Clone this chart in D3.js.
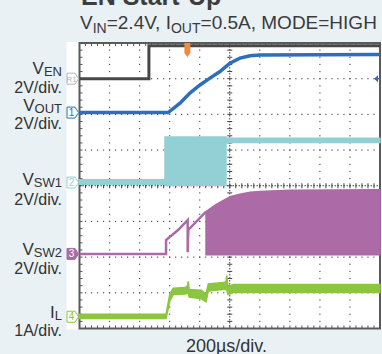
<!DOCTYPE html>
<html>
<head>
<meta charset="utf-8">
<script src="https://cdn.jsdelivr.net/npm/d3@7"></script>
<style>
  html, body { margin: 0; padding: 0; background: #e9f1f5; }
  svg { display: block; font-family: "Liberation Sans", Arial, sans-serif; }
</style>
</head>
<body>
<svg id="chart" width="382" height="354"></svg>
<script>
// ---- Data -------------------------------------------------------------
// Time in µs (200 µs/div, 10 divisions); values in volts or amps.
const timeDomain = [0, 2000];

// V_EN (2 V/div)
const enTrace = [[0, 0], [462, 0], [462, 1.85], [2000, 1.85]];

// V_OUT (2 V/div)
const outTrace = [[0, 0], [590, 0], [669, 0.53], [735, 1.09], [802, 1.55], [868, 1.93],
                  [935, 2.3], [1001, 2.77], [1068, 3.05], [1135, 3.18], [1201, 3.23], [2000, 3.25]];

// V_SW1 switching envelope (2 V/div): [t, low, high]
const sw1Band = [[0, -0.1, 0.15], [569, -0.1, 0.15], [569, -0.15, 2.55], [975, -0.15, 2.55],
                 [975, 2.25, 2.48], [2000, 2.25, 2.48]];

// V_SW2 pre-switching ramp (2 V/div)
const sw2Ramp = [[0, 0], [576, 0], [576, 0.78], [656, 1.34], [720, 1.9], [720, 0.1],
                 [724, 1.34], [842, 2.37]];

// V_SW2 switching envelope: [t, low, high]
const sw2Band = [[842, -0.05, 2.37], [902, -0.05, 2.74], [1002, -0.05, 3.2], [1068, -0.05, 3.35],
                 [1135, -0.05, 3.45], [1201, -0.05, 3.5], [1401, -0.05, 3.57], [2000, -0.05, 3.6]];

// I_L envelope (1 A/div): [t, low, high]
const ilBand = [[0, -0.05, 0.07], [576, -0.05, 0.07], [602, 0.45, 0.65], [624, 0.62, 0.8],
                [702, 0.64, 0.82], [718, 0.66, 0.86], [724, 0.66, 0.99], [730, 0.55, 0.76],
                [813, 0.5, 0.74], [842, 0.42, 0.62], [857, 0.72, 0.92], [957, 0.76, 0.96],
                [975, 0.76, 0.98], [980, 0.76, 1.16], [988, 0.62, 0.84], [1024, 0.68, 0.9],
                [2000, 0.68, 0.9]];

// Channel labels, units per division, and ground offsets (divisions from centre)
const channelMain  = ["V", "V", "V", "V", "I"];
const channelSub   = ["EN", "OUT", "SW1", "SW2", "L"];
const channelScale = ["2V/div.", "2V/div.", "2V/div.", "2V/div.", "1A/div."];
const unitsPerDiv  = [2, 2, 2, 2, 1];
const groundDiv    = [3.0, 2.05, 0.09, -1.91, -3.67];
const markerText   = ["R1", "1", "2", "3", "4"];
const channelColor = ["#474747", "#2f6dbd", "#93d0d5", "#ac6aa6", "#8cc540"];

const titleText = "EN Start-Up";
const subtitleParts = [["V", false], ["IN", true], ["=2.4V, I", false], ["OUT", true], ["=0.5A, MODE=HIGH", false]];
const timeLabel = "200µs/div.";

// ---- Layout -----------------------------------------------------------
const plot = { left: 79.5, right: 380, top: 43, bottom: 328.5 };
const labelRight = 62;
const labelBaselines = [[74, 92.5], [110.5, 129], [185, 205], [255, 273.5], [318, 336]];

const svg = d3.select("#chart");

const x = d3.scaleLinear().domain(timeDomain).range([plot.left, plot.right]);
const yDiv = d3.scaleLinear().domain([-4, 4]).range([plot.bottom, plot.top]);
const yCh = (ch, v) => yDiv(groundDiv[ch] + v / unitsPerDiv[ch]);

// Title and subtitle
svg.append("text").attr("x", 81).attr("y", 5)
  .attr("font-size", 25).attr("font-weight", "bold").attr("fill", "#3d3d3d")
  .text(titleText);

const sub = svg.append("text").attr("x", 80).attr("y", 28.5)
  .attr("font-size", 19).attr("fill", "#3a3a3a");
subtitleParts.forEach(([t, isSub], i) => {
  const prev = i > 0 ? subtitleParts[i - 1][1] : false;
  const ts = sub.append("tspan").text(t)
    .attr("dy", isSub && !prev ? 4 : (!isSub && prev ? -4 : 0));
  if (isSub) ts.attr("font-size", 14);
});

// Screen background
svg.append("rect").attr("x", 66.5).attr("y", 42).attr("width", 382 - 66.5).attr("height", 287.5)
  .attr("fill", "#ffffff");

// ---- Graticule ----------------------------------------------------------
const grid = svg.append("g");
const xDivs = d3.range(0, 11).map(i => plot.left + i * (plot.right - plot.left) / 10);
const yDivs = d3.range(-4, 5).map(d => yDiv(d));
const minorX = d3.range(0, 51).map(i => plot.left + i * (plot.right - plot.left) / 50);
const minorY = d3.range(0, 41).map(i => plot.top + i * (plot.bottom - plot.top) / 40);

// dotted division lines
xDivs.slice(1, 10).forEach((gx, i) => {
  if (i === 4) return;
  minorY.slice(1, 40).forEach(gy => {
    grid.append("rect").attr("x", gx - 0.6).attr("y", gy - 0.6).attr("width", 1.2).attr("height", 1.2).attr("fill", "#555");
  });
});
yDivs.slice(1, 8).forEach((gy, i) => {
  if (i === 3) return;
  minorX.slice(1, 50).forEach(gx => {
    grid.append("rect").attr("x", gx - 0.6).attr("y", gy - 0.6).attr("width", 1.2).attr("height", 1.2).attr("fill", "#555");
  });
});

// centre axes with minor ticks
const cx = xDivs[5], cy = yDiv(0);
grid.append("line").attr("x1", cx).attr("x2", cx).attr("y1", plot.top).attr("y2", plot.bottom)
  .attr("stroke", "#444").attr("stroke-width", 1).attr("stroke-dasharray", "1.5,1.5");
grid.append("line").attr("x1", plot.left).attr("x2", plot.right).attr("y1", cy).attr("y2", cy)
  .attr("stroke", "#444").attr("stroke-width", 1).attr("stroke-dasharray", "1.5,1.5");
minorY.forEach(gy => grid.append("line").attr("x1", cx - 2.5).attr("x2", cx + 2.5).attr("y1", gy).attr("y2", gy)
  .attr("stroke", "#444").attr("stroke-width", 1));
minorX.forEach(gx => grid.append("line").attr("x1", gx).attr("x2", gx).attr("y1", cy - 2.5).attr("y2", cy + 2.5)
  .attr("stroke", "#444").attr("stroke-width", 1));

// border ticks
minorX.forEach(gx => {
  grid.append("line").attr("x1", gx).attr("x2", gx).attr("y1", plot.bottom).attr("y2", plot.bottom - 3)
    .attr("stroke", "#555").attr("stroke-width", 1);
  grid.append("line").attr("x1", gx).attr("x2", gx).attr("y1", plot.top).attr("y2", plot.top + 3)
    .attr("stroke", "#555").attr("stroke-width", 1);
});
minorY.forEach(gy => {
  grid.append("line").attr("x1", plot.left).attr("x2", plot.left + 3).attr("y1", gy).attr("y2", gy)
    .attr("stroke", "#555").attr("stroke-width", 1);
});
grid.append("rect").attr("x", plot.left).attr("y", plot.top)
  .attr("width", plot.right - plot.left).attr("height", plot.bottom - plot.top)
  .attr("fill", "none").attr("stroke", "#5a5a5a").attr("stroke-width", 2);

// ---- Traces -------------------------------------------------------------
const traces = svg.append("g");

const lineFor = ch => d3.line().x(d => x(d[0])).y(d => yCh(ch, d[1]));
const areaFor = ch => d3.area().x(d => x(d[0])).y0(d => yCh(ch, d[1])).y1(d => yCh(ch, d[2]));

// V_SW1
traces.append("path").datum(sw1Band).attr("d", areaFor(2))
  .attr("fill", channelColor[2]).attr("stroke", channelColor[2]).attr("stroke-width", 1.5);

// V_SW2
traces.append("path").datum(sw2Ramp).attr("d", lineFor(3))
  .attr("fill", "none").attr("stroke", channelColor[3]).attr("stroke-width", 2.5);
traces.append("path").datum(sw2Band).attr("d", areaFor(3))
  .attr("fill", channelColor[3]).attr("stroke", channelColor[3]).attr("stroke-width", 1.5);

// I_L
traces.append("path").datum(ilBand).attr("d", areaFor(4))
  .attr("fill", channelColor[4]).attr("stroke", channelColor[4]).attr("stroke-width", 1.5);

// V_EN
traces.append("path").datum(enTrace).attr("d", lineFor(0))
  .attr("fill", "none").attr("stroke", channelColor[0]).attr("stroke-width", 3);

// V_OUT
traces.append("path").datum(outTrace).attr("d", lineFor(1))
  .attr("fill", "none").attr("stroke", channelColor[1]).attr("stroke-width", 3.5);

// ---- Markers ------------------------------------------------------------
const markers = svg.append("g");
groundDiv.forEach((g, i) => {
  const my = yDiv(g);
  const filled = i === 3;
  const col = i === 0 ? "#b5b5b5" : channelColor[i];
  markers.append("path")
    .attr("d", `M67,${my - 5.5}H75L78.5,${my}L75,${my + 5.5}H67Z`)
    .attr("fill", filled ? col : "#fff").attr("stroke", col).attr("stroke-width", 1);
  markers.append("text").attr("x", 71.5).attr("y", my + 3.5)
    .attr("text-anchor", "middle").attr("font-size", i === 0 ? 8 : 10)
    .attr("fill", filled ? "#fff" : col).text(markerText[i]);
});

// trigger position marker
const tx = x(718);
markers.append("path")
  .attr("d", `M${tx - 3},${plot.top}H${tx + 3}V${plot.top + 10}L${tx},${plot.top + 14}L${tx - 3},${plot.top + 10}Z`)
  .attr("fill", "#f08a3c");
// trigger level marker
const ty = yCh(1, 1.9);
markers.append("path")
  .attr("d", `M${plot.right - 6},${ty}L${plot.right - 2},${ty - 3.5}V${ty + 3.5}Z`)
  .attr("fill", channelColor[1]);
markers.append("line").attr("x1", plot.right - 3).attr("x2", plot.right).attr("y1", ty).attr("y2", ty)
  .attr("stroke", channelColor[1]).attr("stroke-width", 1.5);

// ---- Channel labels -----------------------------------------------------
const labels = svg.append("g").attr("fill", "#333");
channelMain.forEach((m, i) => {
  const t = labels.append("text").attr("x", labelRight).attr("y", labelBaselines[i][0])
    .attr("text-anchor", "end").attr("font-size", 17);
  t.append("tspan").text(m);
  t.append("tspan").attr("font-size", 13).attr("dy", 2).text(channelSub[i]);
  labels.append("text").attr("x", labelRight).attr("y", labelBaselines[i][1])
    .attr("text-anchor", "end").attr("font-size", 16).text(channelScale[i]);
});

// Time base
svg.append("text").attr("x", 226.5).attr("y", 351.5).attr("text-anchor", "middle")
  .attr("font-size", 18).attr("fill", "#333").text(timeLabel);
</script>
</body>
</html>
